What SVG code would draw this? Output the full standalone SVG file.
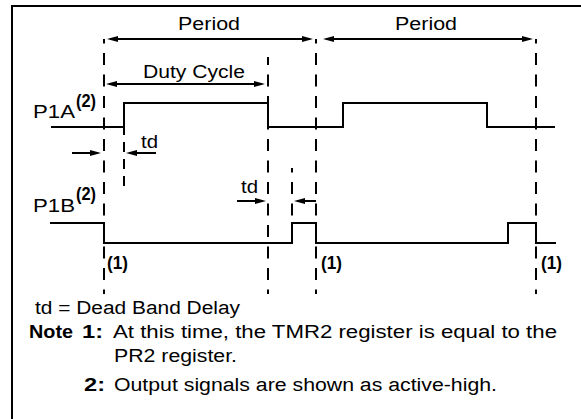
<svg xmlns="http://www.w3.org/2000/svg" width="581" height="419" viewBox="0 0 581 419">
  <style>
    .t { font-family: "Liberation Sans", Arial, Helvetica, sans-serif; font-size: 18px; fill: #000; }
    .b { font-weight: bold; }
    .sig { fill: none; stroke: #000; stroke-width: 2; }
    .dash { fill: none; stroke: #000; stroke-width: 2; stroke-dasharray: 12 9.5; }
    .arr { fill: none; stroke: #000; stroke-width: 2; marker-end: url(#ah); }
    .arr2 { fill: none; stroke: #000; stroke-width: 2; marker-start: url(#ah); marker-end: url(#ah); }
  </style>
  <defs>
    <marker id="ah" viewBox="0 0 11 6" markerWidth="11" markerHeight="6" markerUnits="userSpaceOnUse" refX="8" refY="3" orient="auto-start-reverse">
      <path d="M0,0 L11,3 L0,6 Z" fill="#000"/>
    </marker>
  </defs>
  <rect width="581" height="419" fill="#fff"/>

  <g id="frame">
    <path d="M12,419 V6 H581" fill="none" stroke="#000" stroke-width="2"/>
  </g>

  <g id="guides">
    <line class="dash" x1="104" y1="39" x2="104" y2="294" stroke-dashoffset="7.5"/>
    <line class="dash" x1="268" y1="57" x2="268" y2="294" stroke-dashoffset="4"/>
    <line class="dash" x1="316" y1="39" x2="316" y2="294" stroke-dashoffset="7.5"/>
    <line class="dash" x1="536" y1="39" x2="536" y2="294" stroke-dashoffset="7.5"/>
    <line x1="124" y1="125" x2="124" y2="188" fill="none" stroke="#000" stroke-width="2" stroke-dasharray="10 7"/>
    <line class="dash" x1="292" y1="168" x2="292" y2="223" stroke-dashoffset="7.5"/>
  </g>

  <g id="signal-P1A">
    <polyline class="sig" points="51,127 124,127 124,103 268,103 268,127 343,127 343,103 487,103 487,127 555,127"/>
    <text class="t" x="33" y="118" textLength="42" lengthAdjust="spacingAndGlyphs">P1A</text>
    <text class="t b" x="76" y="107" font-size="14" textLength="20" lengthAdjust="spacingAndGlyphs">(2)</text>
  </g>

  <g id="signal-P1B">
    <polyline class="sig" points="50,223 104,223 104,243 292,243 292,223 316,223 316,243 508,243 508,223 536,223 536,243 556,243"/>
    <text class="t" x="33" y="212" textLength="42" lengthAdjust="spacingAndGlyphs">P1B</text>
    <text class="t b" x="76" y="200" font-size="14" textLength="20" lengthAdjust="spacingAndGlyphs">(2)</text>
  </g>

  <g id="connectors">
    <line class="arr2" x1="110" y1="39" x2="310" y2="39"/>
    <line class="arr2" x1="326" y1="39" x2="530" y2="39"/>
    <line class="arr2" x1="109" y1="84" x2="262" y2="84"/>
    <line class="arr" x1="72" y1="153" x2="98" y2="153"/>
    <line class="arr" x1="156" y1="153" x2="129" y2="153"/>
    <line class="arr" x1="237" y1="201" x2="263" y2="201"/>
    <line class="arr" x1="316" y1="201" x2="297" y2="201"/>
  </g>

  <g id="labels">
    <text class="t" x="178" y="30" font-size="19" textLength="62" lengthAdjust="spacingAndGlyphs">Period</text>
    <text class="t" x="395" y="30" font-size="19" textLength="62" lengthAdjust="spacingAndGlyphs">Period</text>
    <text class="t" x="143" y="78" font-size="19" textLength="102" lengthAdjust="spacingAndGlyphs">Duty Cycle</text>
    <text class="t" x="141" y="148" textLength="17" lengthAdjust="spacingAndGlyphs">td</text>
    <text class="t" x="241" y="193" textLength="17" lengthAdjust="spacingAndGlyphs">td</text>
    <text class="t b" x="107" y="269" font-size="16" textLength="21" lengthAdjust="spacingAndGlyphs">(1)</text>
    <text class="t b" x="321" y="269" font-size="16" textLength="21" lengthAdjust="spacingAndGlyphs">(1)</text>
    <text class="t b" x="541" y="269" font-size="16" textLength="21" lengthAdjust="spacingAndGlyphs">(1)</text>
  </g>

  <g id="notes">
    <text class="t" x="35" y="314" textLength="205" lengthAdjust="spacingAndGlyphs">td = Dead Band Delay</text>
    <text class="t b" x="29" y="338" textLength="44" lengthAdjust="spacingAndGlyphs">Note</text>
    <text class="t b" x="82" y="338" textLength="21" lengthAdjust="spacingAndGlyphs">1:</text>
    <text class="t" x="113" y="338" textLength="444" lengthAdjust="spacingAndGlyphs">At this time, the TMR2 register is equal to the</text>
    <text class="t" x="114" y="362" textLength="123" lengthAdjust="spacingAndGlyphs">PR2 register.</text>
    <text class="t b" x="84" y="391" textLength="21" lengthAdjust="spacingAndGlyphs">2:</text>
    <text class="t" x="114" y="391" textLength="383" lengthAdjust="spacingAndGlyphs">Output signals are shown as active-high.</text>
  </g>
</svg>
